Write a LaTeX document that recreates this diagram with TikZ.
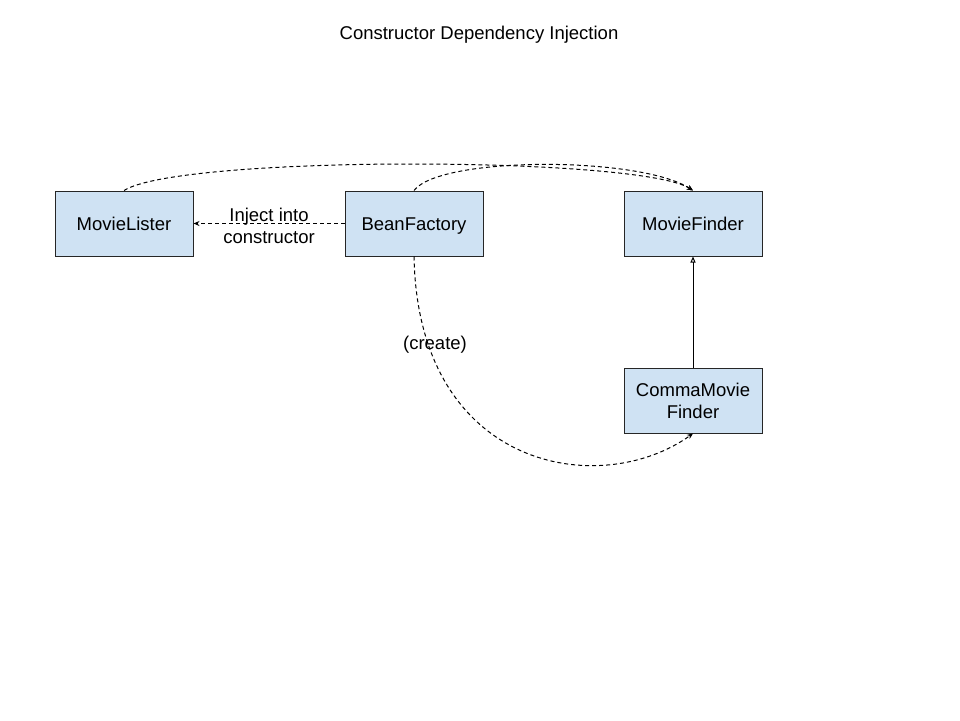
\documentclass[tikz,border=0pt]{standalone}
\usepackage{fontspec}
\setmainfont{Liberation Sans}
\usetikzlibrary{arrows.meta}
\begin{document}
\begin{tikzpicture}[x=1pt,y=-1pt,
  cls/.style={draw=black!85,line width=1pt,fill=cls,minimum width=138pt,minimum height=65pt,inner sep=2pt,font=\fontsize{18.5}{22}\selectfont,text height=13pt,text depth=0pt},
  multi/.style={align=center,text height=,text depth=},
  dep/.style={line width=1pt,dash pattern=on 4pt off 3pt,-{Stealth[length=6pt,width=5pt]}},
  inh/.style={line width=1pt,-{Triangle[open,length=6pt,width=5pt]}},
  lbl/.style={font=\fontsize{18.5}{22}\selectfont,align=center,inner sep=0pt}]
\definecolor{cls}{HTML}{CFE2F3}
\useasboundingbox (0,0) rectangle (960,720);
\node[lbl] (title) at (479,35) {Constructor Dependency Injection};
\node[cls] (ml) at (124,223.5) {MovieLister};
\node[cls] (bf) at (414,223.5) {BeanFactory};
\node[cls] (mf) at (693,223.5) {MovieFinder};
\node[cls,multi] (cmf) at (693,400.5) {CommaMovie\\Finder};
\draw[dep] (bf.west) -- (ml.east) node[lbl,midway,yshift=-2pt] (inj) {Inject into\\constructor};
\draw[dep] (ml.north) .. controls (180,155) and (640,156) .. (mf.north);
\draw[dep] (bf.north) .. controls (440,156) and (640,156) .. (mf.north);
\draw[dep] (bf.south) .. controls (418,470) and (600,500) .. (cmf.south);
\node[lbl] (create) at (435,345) {(create)};
\draw[inh] (cmf.north) -- (mf.south);
\end{tikzpicture}
\end{document}
